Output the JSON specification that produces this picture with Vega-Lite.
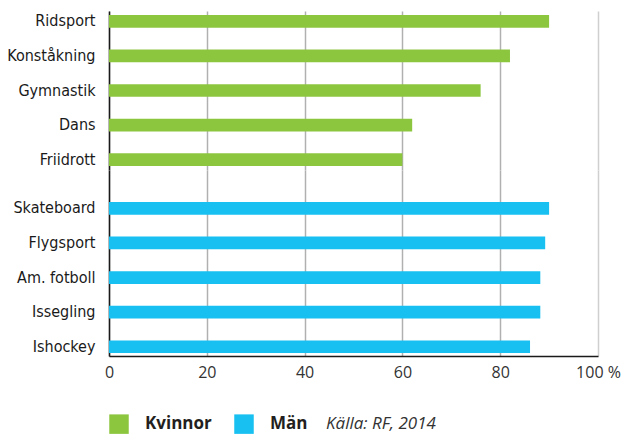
{
  "$schema": "https://vega.github.io/schema/vega-lite/v6.json",
  "padding": {"left": 0, "top": 11, "right": 0, "bottom": 0},
  "background": "white",
  "config": {
    "view": {"stroke": null},
    "concat": {"spacing": 0},
    "axisY": {
      "domain": true, "domainColor": "#1a1a1a", "domainWidth": 1.5,
      "ticks": false, "grid": false, "title": null,
      "labelFont": "DejaVu Sans Condensed, Roboto", "labelFontSize": 16, "labelColor": "#1a1a1a",
      "labelPadding": 14, "minExtent": 109, "maxExtent": 109
    },
    "axisX": {
      "gridColor": {"condition": {"test": "datum.value == 100", "value": "#cfcfcf"}, "value": "#b0b0b0"},
      "gridWidth": 1.5, "ticks": false, "title": null, "labelFlush": false
    },
    "legend": {
      "orient": "bottom", "offset": 34,
      "direction": "horizontal",
      "titleOrient": "right",
      "titleFont": "Open Sans", "titleFontSize": 17, "titleFontStyle": "italic",
      "titleFontWeight": "normal", "titleColor": "#333333", "titlePadding": 19,
      "titleBaseline": "middle",
      "symbolType": "square", "symbolSize": 380, "symbolStrokeWidth": 0,
      "symbolOpacity": 1,
      "labelFont": "Open Sans", "labelFontSize": 17, "labelFontWeight": "bold",
      "labelColor": "#231f20", "labelOffset": 16, "columnPadding": 22, "padding": 0
    }
  },
  "data": {"values": [
    {"sport": "Ridsport", "kön": "Kvinnor", "andel": 90},
    {"sport": "Konståkning", "kön": "Kvinnor", "andel": 82},
    {"sport": "Gymnastik", "kön": "Kvinnor", "andel": 76},
    {"sport": "Dans", "kön": "Kvinnor", "andel": 62},
    {"sport": "Friidrott", "kön": "Kvinnor", "andel": 60},
    {"sport": "Skateboard", "kön": "Män", "andel": 90},
    {"sport": "Flygsport", "kön": "Män", "andel": 89.2},
    {"sport": "Am. fotboll", "kön": "Män", "andel": 88.2},
    {"sport": "Issegling", "kön": "Män", "andel": 88.2},
    {"sport": "Ishockey", "kön": "Män", "andel": 86.1}
  ]},
  "vconcat": [
    {
      "width": 489, "height": 159,
      "transform": [{"filter": "datum['kön'] == 'Kvinnor'"}],
      "mark": {"type": "bar"},
      "encoding": {
        "y": {"field": "sport", "type": "nominal", "sort": null,
              "scale": {"paddingInner": 0.633, "paddingOuter": 0.114, "align": 0.5}},
        "x": {"field": "andel", "type": "quantitative",
              "scale": {"domain": [0, 100], "nice": false},
              "axis": {"values": [0, 20, 40, 60, 80, 100], "grid": true, "labels": false, "domain": false, "ticks": false}},
        "color": {"field": "kön", "type": "nominal",
                  "scale": {"domain": ["Kvinnor", "Män"], "range": ["#8cc63f", "#17c0f1"]},
                  "legend": {"title": "Källa: RF, 2014"}}
      }
    },
    {
      "width": 489, "height": 186,
      "transform": [{"filter": "datum['kön'] == 'Män'"}],
      "mark": {"type": "bar"},
      "encoding": {
        "y": {"field": "sport", "type": "nominal", "sort": null,
              "scale": {"paddingInner": 0.633, "paddingOuter": 0.504, "align": 0.917}},
        "x": {"field": "andel", "type": "quantitative",
              "scale": {"domain": [0, 100], "nice": false},
              "axis": {"values": [0, 20, 40, 60, 80, 100], "grid": true, "domain": true,
                       "domainColor": "#1a1a1a", "domainWidth": 1.5,
                       "labelFont": "Open Sans", "labelFontSize": 16, "labelColor": "#333333",
                       "labelPadding": 8,
                       "labelExpr": "datum.value == 100 ? '100 %' : datum.label"}},
        "color": {"field": "kön", "type": "nominal",
                  "scale": {"domain": ["Kvinnor", "Män"], "range": ["#8cc63f", "#17c0f1"]},
                  "legend": {"title": "Källa: RF, 2014"}}
      }
    }
  ]
}
